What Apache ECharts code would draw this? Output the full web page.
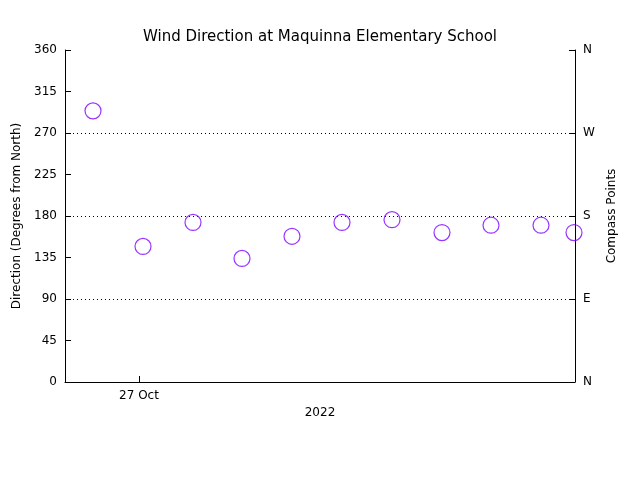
<!DOCTYPE html>
<html><head><meta charset="utf-8">
<script src="https://cdn.jsdelivr.net/npm/echarts@6/dist/echarts.min.js"></script>
<style>html,body{margin:0;background:#fff}#c{width:640px;height:480px}</style>
</head><body><div id="c"></div>
<script>
const hours = [0.56, 1.56, 2.56, 3.54, 4.54, 5.54, 6.54, 7.54, 8.52, 9.52, 10.18];
const directions = [294, 147, 173, 134, 158, 173, 176, 162, 170, 170, 162];
const dateTick = 1.48, dateLabel = '27 Oct';
const yTicks = [0, 45, 90, 135, 180, 225, 270, 315, 360];
const compass = {0:'N', 90:'E', 180:'S', 270:'W', 360:'N'};
const f = 'DejaVu Sans';
const chart = echarts.init(document.getElementById('c'));
chart.setOption({
  animation:false,
  title:{text:'Wind Direction at Maquinna Elementary School',left:'center',top:25,
    textStyle:{fontFamily:f,fontSize:15,fontWeight:'normal',color:'#000'}},
  grid:{left:65,right:65,top:50,bottom:98},
  xAxis:{type:'value',min:0,max:10.2,name:'2022',nameLocation:'middle',nameGap:22,
    nameTextStyle:{fontFamily:f,fontSize:12,color:'#000'},
    axisLine:{onZero:false,lineStyle:{color:'#000'}},
    axisTick:{inside:true,length:6,customValues:[dateTick],lineStyle:{color:'#000'}},
    axisLabel:{customValues:[dateTick],formatter:()=>dateLabel,fontFamily:f,fontSize:12,color:'#000',margin:8},
    splitLine:{show:false}},
  yAxis:[
   {type:'value',min:0,max:360,interval:45,name:'Direction (Degrees from North)',nameLocation:'middle',nameGap:39,
    nameTextStyle:{fontFamily:f,fontSize:12,color:'#000'},
    axisLine:{show:true,lineStyle:{color:'#000'}},
    axisTick:{show:true,inside:true,length:6,lineStyle:{color:'#000'}},
    axisLabel:{fontFamily:f,fontSize:12,color:'#000'},
    splitLine:{show:false}},
   {type:'value',min:0,max:360,interval:90,position:'right',name:'Compass Points',nameLocation:'middle',nameGap:22,
    nameTextStyle:{fontFamily:f,fontSize:12,color:'#000',padding:[0,0,12,0]},
    axisLine:{show:true,lineStyle:{color:'#000'}},
    axisTick:{show:true,inside:true,length:6,lineStyle:{color:'#000'}},
    axisLabel:{formatter:v=>compass[v]||'',fontFamily:f,fontSize:12,color:'#000'},
    splitLine:{show:true,lineStyle:{color:'#000',type:[1,3]},showMinLine:false,showMaxLine:false}}
  ],
  series:[{type:'scatter',data:hours.map((h,i)=>[h,directions[i]]),symbol:'circle',symbolSize:16,
    itemStyle:{color:'transparent',borderColor:'#8000ff',borderWidth:1.2},clip:false}]
});
</script></body></html>
